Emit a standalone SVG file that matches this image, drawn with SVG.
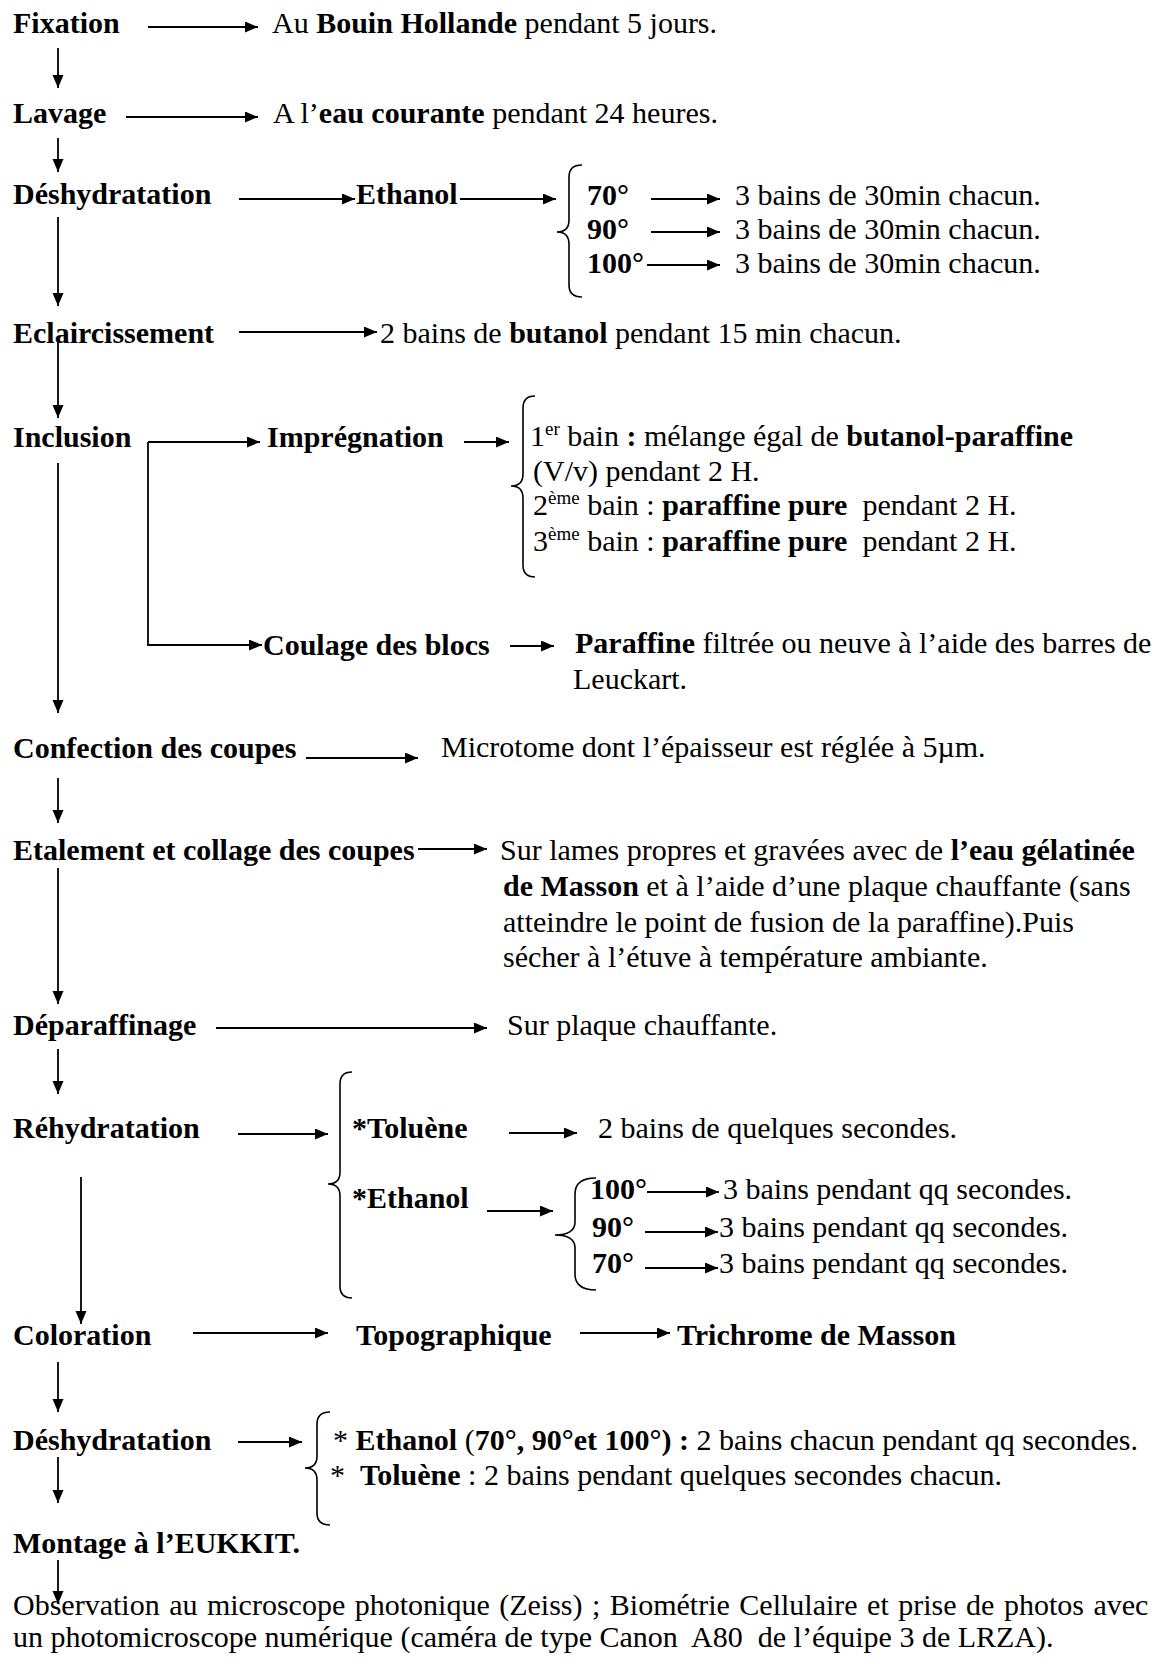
<svg xmlns="http://www.w3.org/2000/svg" width="1158" height="1664" viewBox="0 0 1158 1664">
<defs>
<style>
text { font-family: "Liberation Serif", "Times New Roman", serif; font-size: 30px; fill: #000; white-space: pre; }
.b { font-weight: bold; }
.conn line, .conn path { stroke: #000; stroke-width: 1.8; fill: none; }
.conn .arr { marker-end: url(#ah); }
.brace path { stroke: #000; stroke-width: 1.6; fill: none; }
</style>
<marker id="ah" markerUnits="userSpaceOnUse" markerWidth="14" markerHeight="12" refX="13" refY="5.5" orient="auto">
<path d="M0,0 L13,5.5 L0,11 z" fill="#000"/>
</marker>
</defs>
<rect width="1158" height="1664" fill="#fff"/>

<g id="connectors" class="conn">
<!-- vertical main flow -->
<line class="arr" x1="58" y1="48" x2="58" y2="88"/>
<line class="arr" x1="58" y1="138" x2="58" y2="172"/>
<line class="arr" x1="58" y1="217" x2="58" y2="306"/>
<line class="arr" x1="58" y1="340" x2="58" y2="418"/>
<line class="arr" x1="58" y1="463" x2="58" y2="713"/>
<line class="arr" x1="58" y1="778" x2="58" y2="823"/>
<line class="arr" x1="58" y1="868" x2="58" y2="1004"/>
<line class="arr" x1="58" y1="1049" x2="58" y2="1094"/>
<line class="arr" x1="81" y1="1177" x2="81" y2="1324"/>
<line class="arr" x1="58" y1="1362" x2="58" y2="1412"/>
<line class="arr" x1="58" y1="1457" x2="58" y2="1503"/>
<line class="arr" x1="58" y1="1560" x2="58" y2="1604"/>
<!-- horizontal -->
<line class="arr" x1="148" y1="27" x2="258" y2="27"/>
<line class="arr" x1="126" y1="117" x2="258" y2="117"/>
<line class="arr" x1="239" y1="199" x2="355" y2="199"/>
<line class="arr" x1="460" y1="199" x2="556" y2="199"/>
<line class="arr" x1="651" y1="199" x2="720" y2="199"/>
<line class="arr" x1="651" y1="232" x2="720" y2="232"/>
<line class="arr" x1="647" y1="265" x2="720" y2="265"/>
<line class="arr" x1="239" y1="332" x2="377" y2="332"/>
<path class="arr" d="M148,442 H260"/>
<path class="arr" d="M148,442 V645 H262"/>
<line class="arr" x1="464" y1="442" x2="509" y2="442"/>
<line class="arr" x1="510" y1="646" x2="554" y2="646"/>
<line class="arr" x1="306" y1="758" x2="418" y2="758"/>
<line class="arr" x1="418" y1="849" x2="487" y2="849"/>
<line class="arr" x1="216" y1="1028" x2="487" y2="1028"/>
<line class="arr" x1="238" y1="1134" x2="328" y2="1134"/>
<line class="arr" x1="509" y1="1133" x2="577" y2="1133"/>
<line class="arr" x1="487" y1="1211" x2="553" y2="1211"/>
<line class="arr" x1="647" y1="1192" x2="719" y2="1192"/>
<line class="arr" x1="645" y1="1232" x2="718" y2="1232"/>
<line class="arr" x1="645" y1="1268" x2="718" y2="1268"/>
<line class="arr" x1="193" y1="1333" x2="328" y2="1333"/>
<line class="arr" x1="580" y1="1333" x2="670" y2="1333"/>
<line class="arr" x1="238" y1="1442" x2="302" y2="1442"/>
</g>

<g id="braces" class="brace">
<path d="M582,165 Q569,165 569,177 L569,220 Q569,232 557,232 Q569,232 569,244 L569,285 Q569,297 582,297"/>
<path d="M535,396 Q523,396 523,408 L523,474 Q523,486 511,486 Q523,486 523,498 L523,565 Q523,577 535,577"/>
<path d="M352,1072 Q340,1072 340,1084 L340,1172 Q340,1184 328,1184 Q340,1184 340,1196 L340,1286 Q340,1298 352,1298"/>
<path d="M596,1178 Q575,1178 575,1194 L575,1222 Q575,1235 555,1235 Q575,1235 575,1248 L575,1274 Q575,1290 596,1290"/>
<path d="M330,1412 Q317,1412 317,1424 L317,1456 Q317,1468 305,1468 Q317,1468 317,1480 L317,1513 Q317,1525 330,1525"/>
</g>

<g id="fixation">
<text class="b" x="13" y="33">Fixation</text>
<text x="272" y="33">Au <tspan class="b">Bouin Hollande</tspan> pendant 5 jours.</text>
</g>

<g id="lavage">
<text class="b" x="13" y="123">Lavage</text>
<text x="273" y="123">A l’<tspan class="b">eau courante</tspan> pendant 24 heures.</text>
</g>

<g id="deshydratation1">
<text class="b" x="13" y="204">Déshydratation</text>
<text class="b" x="356" y="204">Ethanol</text>
<text class="b" x="587" y="205">70°</text>
<text x="735" y="205">3 bains de 30min chacun.</text>
<text class="b" x="587" y="239">90°</text>
<text x="735" y="239">3 bains de 30min chacun.</text>
<text class="b" x="587" y="273">100°</text>
<text x="735" y="273">3 bains de 30min chacun.</text>
</g>

<g id="eclaircissement">
<text class="b" x="13" y="343">Eclaircissement</text>
<text x="380" y="343">2 bains de <tspan class="b">butanol</tspan> pendant 15 min chacun.</text>
</g>

<g id="inclusion">
<text class="b" x="13" y="447">Inclusion</text>
</g>

<g id="impregnation">
<text class="b" x="267" y="447">Imprégnation</text>
<text x="530" y="446">1<tspan dy="-11" font-size="19">er</tspan><tspan dy="11"> bain </tspan><tspan class="b">:</tspan> mélange égal de <tspan class="b">butanol-paraffine</tspan></text>
<text x="533" y="481">(V/v) pendant 2 H.</text>
<text x="533" y="515">2<tspan dy="-11" font-size="19">ème</tspan><tspan dy="11"> bain : </tspan><tspan class="b">paraffine pure</tspan>  pendant 2 H.</text>
<text x="533" y="551">3<tspan dy="-11" font-size="19">ème</tspan><tspan dy="11"> bain : </tspan><tspan class="b">paraffine pure</tspan>  pendant 2 H.</text>
</g>

<g id="coulage">
<text class="b" x="263" y="655">Coulage des blocs</text>
<text x="575" y="653"><tspan class="b">Paraffine</tspan> filtrée ou neuve à l’aide des barres de</text>
<text x="573" y="689">Leuckart.</text>
</g>

<g id="confection">
<text class="b" x="13" y="758">Confection des coupes</text>
<text x="441" y="757">Microtome dont l’épaisseur est réglée à 5µm.</text>
</g>

<g id="etalement">
<text class="b" x="13" y="860">Etalement et collage des coupes</text>
<text x="500" y="860">Sur lames propres et gravées avec de <tspan class="b">l’eau gélatinée</tspan></text>
<text x="503" y="896"><tspan class="b">de Masson</tspan> et à l’aide d’une plaque chauffante (sans</text>
<text x="503" y="932">atteindre le point de fusion de la paraffine).Puis</text>
<text x="503" y="967">sécher à l’étuve à température ambiante.</text>
</g>

<g id="deparaffinage">
<text class="b" x="13" y="1035">Déparaffinage</text>
<text x="507" y="1035">Sur plaque chauffante.</text>
</g>

<g id="rehydratation">
<text class="b" x="13" y="1138">Réhydratation</text>
<text class="b" x="352" y="1138">*Toluène</text>
<text x="598" y="1138">2 bains de quelques secondes.</text>
<text class="b" x="352" y="1208">*Ethanol</text>
<text class="b" x="590" y="1199">100°</text>
<text x="723" y="1199">3 bains pendant qq secondes.</text>
<text class="b" x="592" y="1237">90°</text>
<text x="719" y="1237">3 bains pendant qq secondes.</text>
<text class="b" x="592" y="1273">70°</text>
<text x="719" y="1273">3 bains pendant qq secondes.</text>
</g>

<g id="coloration">
<text class="b" x="13" y="1345">Coloration</text>
<text class="b" x="356" y="1345">Topographique</text>
<text class="b" x="677" y="1345">Trichrome de Masson</text>
</g>

<g id="deshydratation2">
<text class="b" x="13" y="1450">Déshydratation</text>
<text x="333" y="1450">* <tspan class="b">Ethanol</tspan> (<tspan class="b">70°, 90°et 100°) :</tspan> 2 bains chacun pendant qq secondes.</text>
<text x="330" y="1485">*  <tspan class="b">Toluène</tspan> : 2 bains pendant quelques secondes chacun.</text>
</g>

<g id="montage">
<text class="b" x="13" y="1553">Montage à l’EUKKIT.</text>
</g>

<g id="observation">
<text x="13" y="1615" word-spacing="2">Observation au microscope photonique (Zeiss) ; Biométrie Cellulaire et prise de photos avec</text>
<text x="13" y="1647">un photomicroscope numérique (caméra de type Canon  A80  de l’équipe 3 de LRZA).</text>
</g>
</svg>
